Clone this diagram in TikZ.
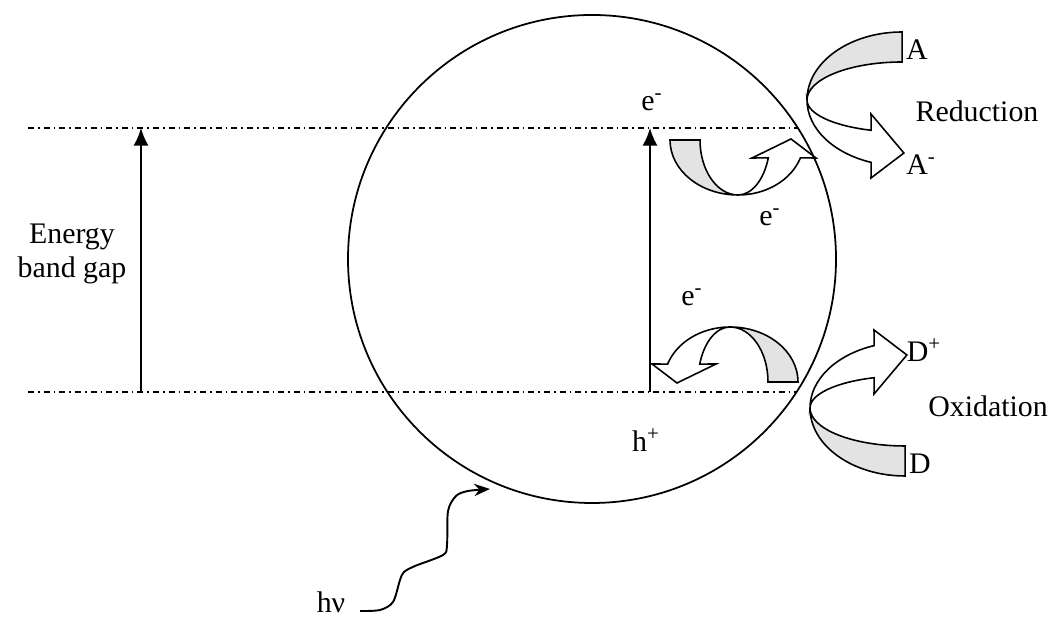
\documentclass[tikz,border=0pt]{standalone}
\usepackage{fontspec}
\setmainfont{Liberation Serif}
\usetikzlibrary{arrows.meta}

% twisted band arrow, drawn with the bend at the origin
\newcommand{\ribbonarrow}[1]{%
  \begin{scope}[#1]
    \filldraw[ribbon back] (-68,55) arc[start angle=180, end angle=270, x radius=68, y radius=55]
      arc[start angle=270, end angle=180, x radius=38, y radius=55] -- cycle;
    \filldraw[ribbon front] (0,0) arc[start angle=270, end angle=341, x radius=66, y radius=55]
      -- (78,37) -- (53,56) -- (14,37) -- (30.3,37.1)
      arc[start angle=341, end angle=270, x radius=32, y radius=55] -- cycle;
  \end{scope}}

\begin{document}
\begin{tikzpicture}[x=0.02cm, y=0.02cm, line width=1pt,
    font=\fontsize{17}{19}\selectfont,
    level/.style={line width=0.8pt, dash pattern=on 3.4pt off 2.3pt on 0.9pt off 2.3pt},
    ribbon back/.style={fill=gray!22, draw=black, line width=0.9pt},
    ribbon front/.style={fill=white, draw=black, line width=0.9pt},
    gap arrow/.style={-{Latex[length=10pt, width=8.5pt]}, line width=1pt}]
  \useasboundingbox (0,0) rectangle (1054,617);

  % band edges
  \coordinate (cb left) at (28,489);
  \coordinate (cb right) at (798,489);
  \coordinate (vb left) at (28,225);
  \coordinate (vb right) at (797,225);
  \draw[level] (cb left) -- (cb right);
  \draw[level] (vb left) -- (vb right);

  % band gap arrows
  \coordinate (gap low) at (141,225);
  \coordinate (gap up) at (141,489);
  \coordinate (exc low) at (650,225);
  \coordinate (exc up) at (650,489);
  \draw[gap arrow] (gap low) -- (gap up);
  \draw[gap arrow] (exc low) -- (exc up);

  % charge transfer arrows
  \ribbonarrow{shift={(738,422)}}
  \ribbonarrow{shift={(807,517)}, rotate=-90, yscale=1.73}
  \ribbonarrow{shift={(730,290)}, rotate=180}
  \ribbonarrow{shift={(810,209)}, yscale=-1, rotate=-90, yscale=1.73}

  % particle
  \node[circle, draw, line width=1pt, minimum size=488*0.02cm, inner sep=0pt] (particle) at (592,358) {};

  % photon
  \coordinate (photon) at (360,6);
  \draw[-{Stealth[length=9pt, width=7pt]}, line width=1.1pt]
    plot[smooth, tension=0.5] coordinates {(photon) (380,7) (393,15) (400,37) (404,45)
      (415,51) (443,62) (447,72) (448,106) (456,121) (468,126) (490,128)};

  \node (energy) at (72,363) [align=center] {Energy\\band gap};
  \node (e cb) at (652,515) {e\textsuperscript{-}};
  \node (e red) at (770,400) {e\textsuperscript{-}};
  \node (e ox) at (692,320) {e\textsuperscript{-}};
  \node (hole) at (646,177) {h\textsuperscript{+}};
  \node (A) at (917,567) {A};
  \node (A minus) at (921,452) {A\textsuperscript{-}};
  \node (red) at (977,506) {Reduction};
  \node (D plus) at (924,267) {D\textsuperscript{+}};
  \node (ox) at (988,211) {Oxidation};
  \node (D) at (920,153) {D};
  \node (hv) at (331,15) {hν};
\end{tikzpicture}
\end{document}
